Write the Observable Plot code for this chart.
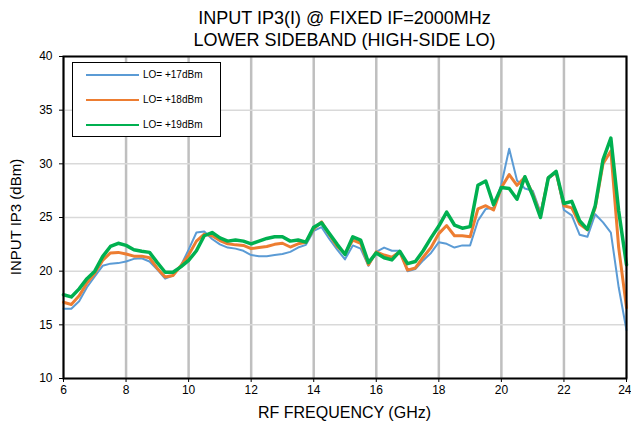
<!DOCTYPE html>
<html><head><meta charset="utf-8">
<script src="https://cdn.jsdelivr.net/npm/d3@7"></script>
<script src="https://cdn.jsdelivr.net/npm/@observablehq/plot@0.6"></script>
<style>
body{margin:0;background:#fff;font-family:"Liberation Sans",Arial,sans-serif;}
#wrap{position:relative;width:631px;height:430px;overflow:hidden;}
#title{position:absolute;left:63px;width:563px;top:7px;text-align:center;font-size:18px;line-height:22.4px;color:#000;}
#xlabel{position:absolute;left:63px;width:563px;top:404px;text-align:center;font-size:16px;color:#000;}
#ylabel{position:absolute;left:15px;top:217px;transform:translate(-50%,-50%) rotate(-90deg);white-space:nowrap;font-size:15px;color:#000;}
#legend{position:absolute;left:72px;top:62px;width:149px;height:75px;border:1.5px solid #000;background:#fff;box-sizing:border-box;}
.row{position:absolute;left:13px;height:14px;font-size:10px;line-height:14px;}
.sw{position:absolute;left:0;top:6px;width:53px;}
.lt{position:absolute;left:57px;top:0;white-space:nowrap;}
#chart{position:absolute;left:0;top:0;}
</style>
</head><body>
<div id="wrap">
<div id="chart"></div>
<div id="title">INPUT IP3(I) @ FIXED IF=2000MHz<br>LOWER SIDEBAND (HIGH-SIDE LO)</div>
<div id="xlabel">RF FREQUENCY (GHz)</div>
<div id="ylabel">INPUT IP3 (dBm)</div>
<div id="legend"></div>
</div>
<script>
const freq = [6,6.25,6.5,6.75,7,7.25,7.5,7.75,8,8.25,8.5,8.75,9,9.25,9.5,9.75,10,10.25,10.5,10.75,11,11.25,11.5,11.75,12,12.25,12.5,12.75,13,13.25,13.5,13.75,14,14.25,14.5,14.75,15,15.25,15.5,15.75,16,16.25,16.5,16.75,17,17.25,17.5,17.75,18,18.25,18.5,18.75,19,19.25,19.5,19.75,20,20.25,20.5,20.75,21,21.25,21.5,21.75,22,22.25,22.5,22.75,23,23.25,23.5,23.75,24];
const lo17 = [16.5,16.5,17.2,18.5,19.5,20.5,20.7,20.75,20.9,21.15,21.2,20.9,20.15,19.3,19.6,20.5,22.0,23.6,23.7,23.0,22.5,22.2,22.1,21.9,21.5,21.4,21.4,21.5,21.6,21.8,22.2,22.45,23.75,24.1,23.0,22.0,21.1,22.4,22.1,20.5,21.8,22.2,21.9,21.9,20.0,20.2,21.0,21.7,22.7,22.55,22.2,22.4,22.4,24.7,25.8,25.9,28.1,31.4,28.45,27.7,27.5,25.5,28.6,29.2,25.7,25.2,23.4,23.2,25.3,24.55,23.6,18.5,14.5];
const lo18 = [17.1,16.9,17.7,18.9,19.8,21.0,21.7,21.75,21.6,21.4,21.4,21.25,20.25,19.45,19.6,20.5,21.5,22.8,23.45,23.3,22.85,22.55,22.45,22.4,22.1,22.2,22.3,22.5,22.6,22.25,22.55,22.7,23.95,24.6,23.4,22.3,21.65,22.9,22.6,20.6,21.8,21.5,21.3,21.8,20.1,20.3,21.3,22.2,23.5,24.25,23.3,23.3,23.2,25.8,26.1,25.7,27.8,29.0,28.0,28.75,27.2,25.2,28.7,29.2,26.1,25.9,24.4,23.85,25.9,30.0,31.2,22.2,16.6];
const lo19 = [17.8,17.6,18.35,19.3,20.0,21.35,22.3,22.6,22.4,22.0,21.85,21.75,20.8,19.9,19.9,20.4,21.0,21.9,23.3,23.6,23.1,22.8,22.9,22.8,22.55,22.8,23.05,23.2,23.2,22.8,22.9,22.7,24.1,24.5,23.5,22.5,21.55,23.2,22.9,20.8,21.7,21.25,21.05,21.85,20.7,20.9,21.9,23.1,24.2,25.5,24.3,24.0,24.15,28.0,28.4,26.2,27.8,27.7,26.7,28.8,27.05,25.0,28.7,29.3,26.3,26.5,24.7,23.9,26.1,30.4,32.4,25.6,20.6];
const seriesNames = ["LO= +17dBm","LO= +18dBm","LO= +19dBm"];
const seriesColors = ["#5b9bd5","#ed7d31","#00b050"];
const seriesWidths = [2,3,3.5];
const xTicks = [6,8,10,12,14,16,18,20,22,24];
const yTicks = [10,15,20,25,30,35,40];

const series = [lo17, lo18, lo19];
const lineMarks = series.map((vals, i) =>
  Plot.line(freq.map((f, j) => ({f, v: vals[j]})), {
    x: "f", y: "v", stroke: seriesColors[i], strokeWidth: seriesWidths[i],
    strokeLinejoin: "round", strokeLinecap: "round"
  })
);
const lastTick = xTicks[xTicks.length - 1];

const chart = Plot.plot({
  width: 631, height: 430,
  marginTop: 56, marginBottom: 52, marginLeft: 63, marginRight: 5,
  style: {fontFamily: "'Liberation Sans', Arial, sans-serif", fontSize: "12px", color: "#000", background: "#fff"},
  x: {domain: [6, 24], ticks: xTicks},
  y: {domain: [10, 40], ticks: yTicks},
  marks: [
    Plot.gridX(xTicks, {stroke: "#bfbfbf", strokeOpacity: 1, strokeWidth: 2.5}),
    Plot.gridY(yTicks, {stroke: "#d9d9d9", strokeOpacity: 1, strokeWidth: 1.5}),
    ...lineMarks,
    Plot.frame({stroke: "#000", strokeWidth: 2}),
    Plot.axisX(xTicks.filter(t => t !== lastTick), {tickSize: 4, tickPadding: 3, label: null, fontSize: 12, stroke: "#000"}),
    Plot.axisX([lastTick], {tickSize: 4, tickPadding: 3, label: null, fontSize: 12, stroke: "#000", text: null}),
    Plot.axisX([lastTick], {tickSize: 0, tickPadding: 7, label: null, fontSize: 12, textAnchor: "end", dx: 5}),
    Plot.axisY(yTicks, {tickSize: 4, tickPadding: 7, label: null, fontSize: 12, stroke: "#000"})
  ]
});
document.getElementById("chart").appendChild(chart);

const legend = document.getElementById("legend");
seriesNames.forEach((name, i) => {
  const row = document.createElement("div");
  row.className = "row";
  row.style.top = (5 + i * 25) + "px";
  const sw = document.createElement("div");
  sw.className = "sw";
  sw.style.borderTop = "2.5px solid " + seriesColors[i];
  const t = document.createElement("div");
  t.className = "lt";
  t.textContent = name;
  row.appendChild(sw); row.appendChild(t);
  legend.appendChild(row);
});
</script>
</body></html>
